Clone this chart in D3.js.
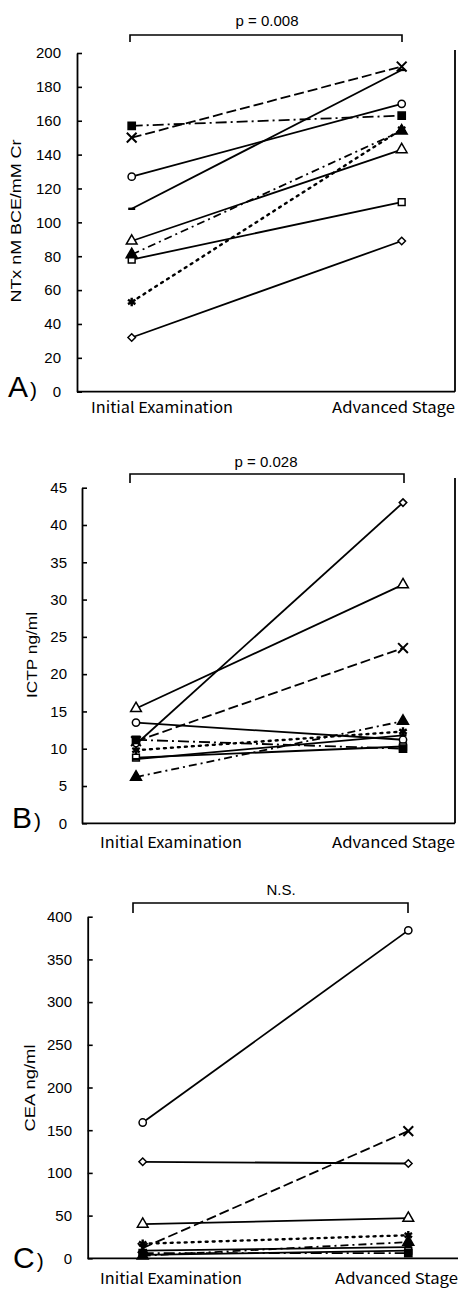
<!DOCTYPE html>
<html>
<head>
<meta charset="utf-8">
<script src="https://cdn.jsdelivr.net/npm/d3@7"></script>
<style>
  html, body { margin: 0; padding: 0; background: #fff; }
  svg { display: block; }
  text { fill: #000; }
</style>
</head>
<body>
<svg id="chart" width="459" height="1289"></svg>
<script>
// Two time points per patient
const categories = ["Initial Examination", "Advanced Stage"];

// One entry per patient; each keeps the same marker / line style in every panel
const patients = ["circle", "diamond", "triangle", "square", "cross", "squareFilled", "triangleFilled", "asterisk", "bar"];

// A) NTx (nM BCE/mM Cr)
const ntxInitial  = [127, 32, 89, 78, 150, 157, 81, 53, 108];
const ntxAdvanced = [170, 89, 143, 112, 192, 163, 154, 155, 190];
const ntxTicks = [0, 20, 40, 60, 80, 100, 120, 140, 160, 180, 200];

// B) ICTP (ng/ml)
const ictpInitial  = [13.5, 10.6, 15.4, 8.8, 11.0, 11.2, 6.2, 9.8, 8.6];
const ictpAdvanced = [11.2, 43, 32, 10.3, 23.5, 10.0, 13.7, 12.3, 11.8];
const ictpTicks = [0, 5, 10, 15, 20, 25, 30, 35, 40, 45];

// C) CEA (ng/ml)
const ceaInitial  = [159, 113, 40, 4, 12, 6, 3, 17, 9];
const ceaAdvanced = [384, 111, 47, 9, 149, 6, 19, 27, 13];
const ceaTicks = [0, 50, 100, 150, 200, 250, 300, 350, 400];

// marker shape, fill and dash pattern per patient
const styleOf = {
  circle:         { sym: d3.symbolCircle,    size: 42, fill: "#fff", dash: null },
  diamond:        { sym: d3.symbolDiamond2,  size: 36, fill: "#fff", dash: null },
  triangle:       { sym: d3.symbolTriangle,  size: 50, fill: "#fff", dash: null },
  square:         { sym: d3.symbolSquare,    size: 46, fill: "#fff", dash: null },
  cross:          { sym: d3.symbolTimes,     size: 64, fill: "none", dash: "10,4" },
  squareFilled:   { sym: d3.symbolSquare,    size: 52, fill: "#000", dash: "11,4,2,4" },
  triangleFilled: { sym: d3.symbolTriangle,  size: 52, fill: "#000", dash: "8,4,2,4" },
  asterisk:       { sym: d3.symbolAsterisk,  size: 52, fill: "none", dash: "2,5" },
  bar:            { sym: null,               size: 0,  fill: "none", dash: null }
};

const panels = [
  { letter: "A", title: "NTx nM BCE/mM Cr", note: "p = 0.008",
    initial: ntxInitial, advanced: ntxAdvanced, ticks: ntxTicks,
    left: 77, right: 455, xInit: 131.7, xAdv: 401.7, yBottom: 391.7, yTop: 53,
    border: true, borderTop: 50,
    bracket: [130, 402, 35, 42], noteX: 267, noteY: 26,
    tickEnd: 61, titleX: 21, titleY: 221, titleLen: 163,
    catY: 413, catStart: 91, letterX: 8, letterY: 397 },
  { letter: "B", title: "ICTP ng/ml", note: "p = 0.028",
    initial: ictpInitial, advanced: ictpAdvanced, ticks: ictpTicks,
    left: 82, right: 455, xInit: 136, xAdv: 403, yBottom: 823.3, yTop: 487.7,
    border: true, borderTop: 478,
    bracket: [130, 404, 474, 483], noteX: 266, noteY: 467,
    tickEnd: 67, titleX: 37, titleY: 655, titleLen: 86,
    catY: 848, catStart: 100, letterX: 12, letterY: 828 },
  { letter: "C", title: "CEA ng/ml", note: "N.S.",
    initial: ceaInitial, advanced: ceaAdvanced, ticks: ceaTicks,
    left: 87.7, right: 458, xInit: 142.7, xAdv: 408.3, yBottom: 1258.3, yTop: 916.7,
    border: false,
    bracket: [133, 408, 903, 913], noteX: 281, noteY: 895,
    tickEnd: 72, titleX: 35, titleY: 1088, titleLen: 87,
    catY: 1284, catStart: 100, letterX: 13, letterY: 1268 }
];

const svg = d3.select("#chart");
const sans = "'Liberation Sans', Arial, sans-serif";
const gothic = "'Noto Sans CJK JP', 'Noto Sans', sans-serif";

panels.forEach(p => {
  const g = svg.append("g");
  const x = d3.scalePoint().domain(categories).range([p.xInit, p.xAdv]).padding(0);
  const y = d3.scaleLinear().domain([0, d3.max(p.ticks)]).range([p.yBottom, p.yTop]);

  // left value axis with inward ticks
  const yAxis = d3.axisLeft(y).tickValues(p.ticks).tickSize(-5).tickSizeOuter(0).tickPadding(p.left - p.tickEnd);
  const ya = g.append("g").attr("transform", `translate(${p.left},0)`).call(yAxis);
  ya.select(".domain").attr("stroke", "#000").attr("stroke-width", 1.8);
  ya.selectAll(".tick line").attr("stroke", "#000").attr("stroke-width", 1.6);
  ya.selectAll(".tick text").attr("font-family", sans).attr("font-size", 15).attr("fill", "#000");

  // baseline
  g.append("line")
    .attr("x1", p.left).attr("x2", p.right)
    .attr("y1", y(0)).attr("y2", y(0))
    .attr("stroke", "#000").attr("stroke-width", 1.8);

  // right frame
  if (p.border) {
    g.append("line")
      .attr("x1", p.right).attr("x2", p.right)
      .attr("y1", p.borderTop).attr("y2", y(0))
      .attr("stroke", "#000").attr("stroke-width", 1.8);
  }

  // category labels
  g.append("text").text(categories[0])
    .attr("x", p.catStart).attr("y", p.catY)
    .attr("font-family", gothic).attr("font-size", 15)
    .attr("textLength", 142).attr("lengthAdjust", "spacingAndGlyphs");
  g.append("text").text(categories[1])
    .attr("x", p.right).attr("y", p.catY).attr("text-anchor", "end")
    .attr("font-family", gothic).attr("font-size", 15)
    .attr("textLength", 123).attr("lengthAdjust", "spacingAndGlyphs");

  // axis title
  g.append("text").text(p.title)
    .attr("transform", `translate(${p.titleX},${p.titleY}) rotate(-90)`)
    .attr("text-anchor", "middle")
    .attr("font-family", sans).attr("font-size", 15)
    .attr("textLength", p.titleLen).attr("lengthAdjust", "spacingAndGlyphs");

  // significance bracket
  const [bx1, bx2, by, bd] = p.bracket;
  g.append("path")
    .attr("d", `M${bx1},${bd}V${by}H${bx2}V${bd}`)
    .attr("fill", "none").attr("stroke", "#000").attr("stroke-width", 1.6);
  g.append("text").text(p.note)
    .attr("x", p.noteX).attr("y", p.noteY).attr("text-anchor", "middle")
    .attr("font-family", sans).attr("font-size", 15);

  // panel letter
  const lt = g.append("text").attr("x", p.letterX).attr("y", p.letterY)
    .attr("font-family", sans);
  lt.append("tspan").text(p.letter).attr("font-size", 30);
  lt.append("tspan").text(")").attr("font-size", 21).attr("dx", 2).attr("font-weight", 300);

  // patient lines
  const rows = patients.map((k, i) => ({ key: k, values: [p.initial[i], p.advanced[i]] }));
  const line = d3.line().x((d, j) => x(categories[j])).y(d => y(d));

  g.selectAll("path.series").data(rows).join("path")
    .attr("class", "series")
    .attr("d", d => line(d.values))
    .attr("fill", "none").attr("stroke", "#000")
    .attr("stroke-width", d => styleOf[d.key].dash === "2,5" ? 2.4 : 1.8)
    .attr("stroke-linecap", d => styleOf[d.key].dash === "2,5" ? "round" : "butt")
    .attr("stroke-dasharray", d => styleOf[d.key].dash);

  // markers
  const pts = rows.flatMap(r => r.values.map((v, j) => ({ key: r.key, cx: x(categories[j]), cy: y(v) })));
  pts.forEach(d => {
    const st = styleOf[d.key];
    if (!st.sym) {
      g.append("line")
        .attr("x1", d.cx - 3.5).attr("x2", d.cx + 3.5)
        .attr("y1", d.cy).attr("y2", d.cy)
        .attr("stroke", "#000").attr("stroke-width", 2.4);
      return;
    }
    const stroked = (st.sym === d3.symbolTimes || st.sym === d3.symbolAsterisk);
    g.append("path")
      .attr("d", d3.symbol().type(st.sym).size(st.size)())
      .attr("transform", `translate(${d.cx},${d.cy})`)
      .attr("fill", stroked ? "none" : st.fill)
      .attr("stroke", "#000")
      .attr("stroke-width", stroked ? (st.sym === d3.symbolAsterisk ? 2.4 : 2) : 1.5);
  });
});
</script>
</body>
</html>
